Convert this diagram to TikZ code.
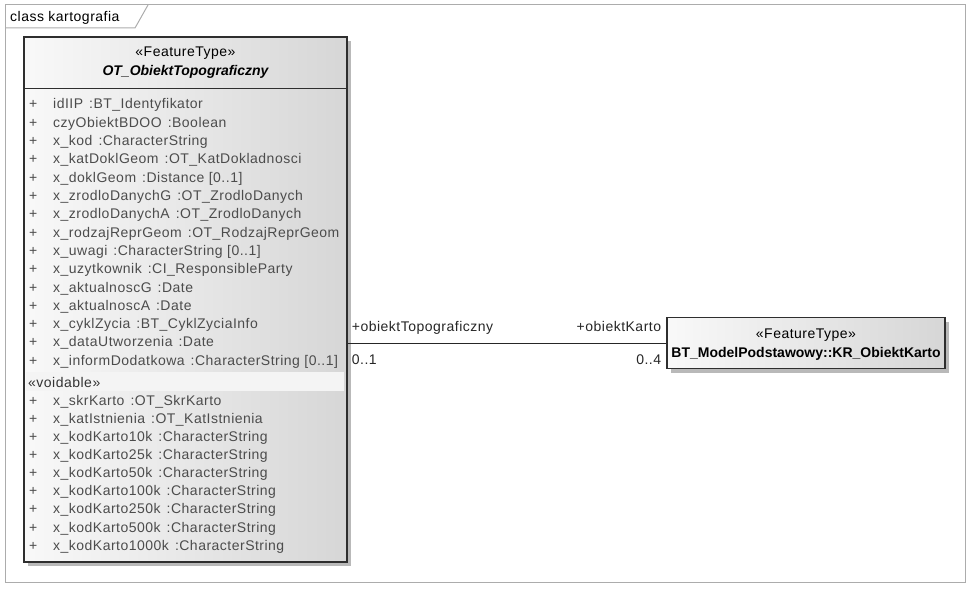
\documentclass[tikz,border=0pt]{standalone}
\usepackage{fontspec}
\setmainfont{Liberation Sans}
\newfontfamily\widefont[LetterSpace=3.5]{Liberation Sans}
\usetikzlibrary{shadows,positioning}

\tikzset{
  frame/.style={draw=gray!65, line width=1pt},
  umlbox/.style={draw=black!82, line width=1.4pt, left color=gray!5, right color=gray!32,
    drop shadow={shadow xshift=4pt, shadow yshift=-4pt, fill=gray!55, opacity=1}},
  boxline/.style={draw=black!82, line width=1.4pt},
  txt/.style={inner sep=0pt, font=\fontsize{14}{18}\selectfont\widefont},
  attr/.style={txt, anchor=base west, text=black!70},
  role/.style={txt, text=black!85},
  assoc/.style={draw=black!85, line width=1pt},
  voidband/.style={fill=gray!9}
}

\begin{document}
\begin{tikzpicture}[x=1pt,y=-1pt]
\useasboundingbox (0,0) rectangle (971,591);

\draw[frame] (5,5) rectangle (965,582);
\draw[frame] (5,28) -- (135,28) -- (148,5);
\node[txt, anchor=base west] (title) at (10,22) {class kartografia};

\node[umlbox, minimum width=323pt, minimum height=525pt] (obiekt) at (185.5,299.5) {};
\draw[boxline] ([yshift=-52pt]obiekt.north west) -- ([yshift=-52pt]obiekt.north east);
\node[txt] (st1) at (185.5,53) {«FeatureType»};
\node[txt, font=\fontsize{14}{18}\selectfont\bfseries\itshape] (nm1) at (185.5,72) {OT\_ObiektTopograficzny};

\foreach \nm/\tp [count=\i] in {idIIP/BT\_Identyfikator, czyObiektBDOO/Boolean,
  x\_kod/CharacterString, x\_katDoklGeom/OT\_KatDokladnosci, x\_doklGeom/Distance [0..1],
  x\_zrodloDanychG/OT\_ZrodloDanych, x\_zrodloDanychA/OT\_ZrodloDanych,
  x\_rodzajReprGeom/OT\_RodzajReprGeom, x\_uwagi/CharacterString [0..1],
  x\_uzytkownik/CI\_ResponsibleParty, x\_aktualnoscG/Date, x\_aktualnoscA/Date,
  x\_cyklZycia/BT\_CyklZyciaInfo, x\_dataUtworzenia/Date,
  x\_informDodatkowa/CharacterString [0..1]}
{
  \node[attr] (pa\i) at (29,{109+(\i-1)*18.3}) {+};
  \node[attr] (a\i) at (53,{109+(\i-1)*18.3}) {\nm\hspace{6pt}:\tp};
}

\fill[voidband] (26,372) rectangle (344,391);
\node[attr, text=black!80] (vd) at (28,387) {«voidable»};

\foreach \nm/\tp [count=\i] in {x\_skrKarto/OT\_SkrKarto, x\_katIstnienia/OT\_KatIstnienia,
  x\_kodKarto10k/CharacterString, x\_kodKarto25k/CharacterString,
  x\_kodKarto50k/CharacterString, x\_kodKarto100k/CharacterString,
  x\_kodKarto250k/CharacterString, x\_kodKarto500k/CharacterString,
  x\_kodKarto1000k/CharacterString}
{
  \node[attr] (pv\i) at (29,{405+(\i-1)*18.15}) {+};
  \node[attr] (v\i) at (53,{405+(\i-1)*18.15}) {\nm\hspace{6pt}:\tp};
}

\node[umlbox, minimum width=278pt, minimum height=51pt] (karto) at (806,343) {};
\node[txt] (st2) at (806,335) {«FeatureType»};
\node[txt, font=\fontsize{14}{18}\selectfont\bfseries] (nm2) at (806,354) {BT\_ModelPodstawowy::KR\_ObiektKarto};

\coordinate (aend) at (obiekt.east |- karto.west);
\draw[assoc] (aend) -- (karto.west);
\node[role, anchor=base west] (r1) at ([shift={(4,-12)}]aend) {+obiektTopograficzny};
\node[role, anchor=base west] (m1) at ([shift={(4,21)}]aend) {0..1};
\node[role, anchor=base east] (r2) at ([shift={(-5,-12)}]karto.west) {+obiektKarto};
\node[role, anchor=base east] (m2) at ([shift={(-5,21)}]karto.west) {0..4};
\end{tikzpicture}
\end{document}
